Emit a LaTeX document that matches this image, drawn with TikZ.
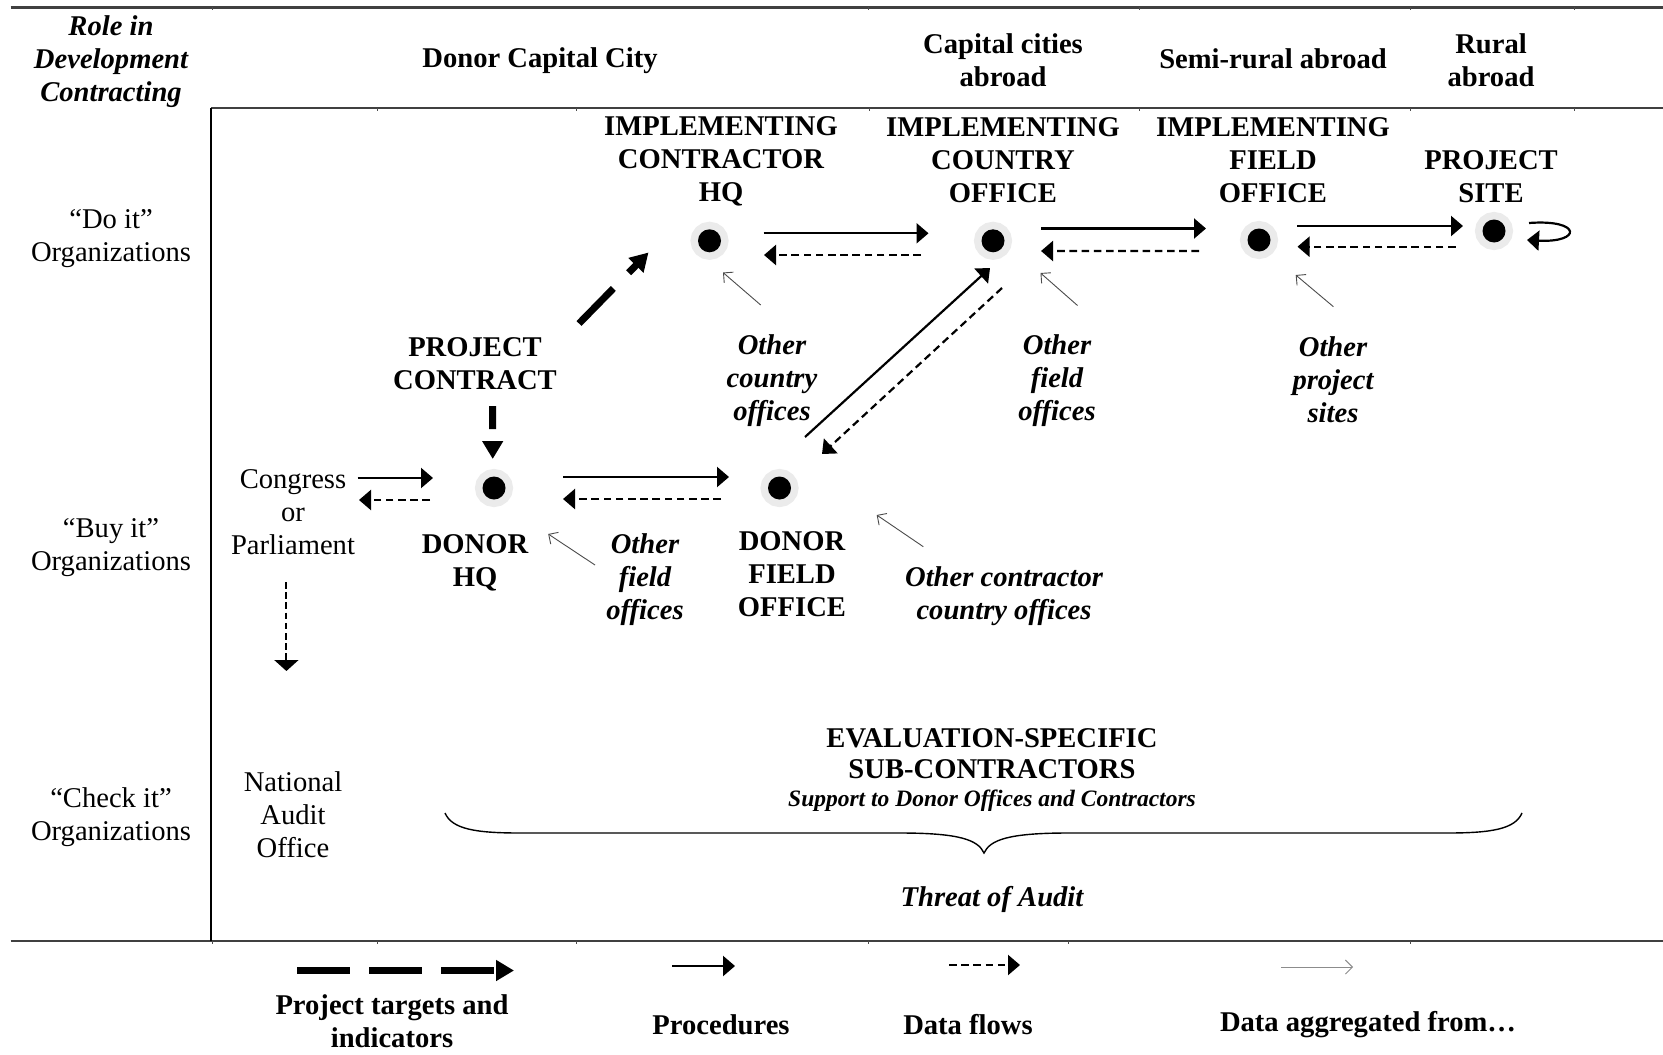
\documentclass[tikz,border=0pt]{standalone}
\usepackage{fontspec}
\setmainfont{Liberation Serif}
\usetikzlibrary{arrows.meta,calc}

\begin{document}
\begin{tikzpicture}[x=0.5pt,y=-0.5pt,
  every node/.style={font=\fontsize{14.3pt}{16.5pt}\selectfont, align=center, inner sep=0pt},
  hdr/.style={font=\fontsize{14.3pt}{16.5pt}\selectfont\bfseries},
  hdri/.style={font=\fontsize{14.3pt}{16.5pt}\selectfont\bfseries\itshape},
  dot/.style={circle, fill=black, inner sep=0pt, minimum size=11.5pt,
              preaction={draw=black!8, line width=7.5pt}},
  rule/.style={line width=1.1pt, draw=black!75},
  tick/.style={line width=0.4pt, draw=black!70},
  proc/.style={line width=1.1pt, -{Triangle[length=6pt,width=10pt]}},
  flow/.style={proc, dash pattern=on 3.8pt off 2.3pt},
  target/.style={line width=3.5pt, -{Triangle[length=9pt,width=10pt]}},
  agg/.style={line width=0.45pt, draw=black!70, -{Straight Barb[length=3.5pt,width=7pt]}},
]
\fill[white] (0,0) rectangle (1663,1054);
\useasboundingbox (0,0) rectangle (1663,1054);

% table rules
\draw[rule] (10.6,7.5) -- (1663,7.5);
\draw[rule] (211,108) -- (1663,108);
\draw[rule] (10.6,941) -- (1663,941);
\draw[line width=0.65pt] (211,108) -- (211,941);
\foreach \t in {212,868,1139,1410,1574} \draw[tick] (\t,7.5) -- ++(0,3);
\foreach \t in {377,576,869,1139,1410,1574} \draw[tick] (\t,108) -- ++(0,3);
\foreach \t in {212,377,576,868,1068,1410} \draw[tick] (\t,941) -- ++(0,3);

% column and row headings
\node[hdri] (role) at (111,62) {Role in\\Development\\Contracting};
\node[hdr] (donorcap) at (540,61) {Donor Capital City};
\node[hdr] (capabroad) at (1003,60) {Capital cities\\abroad};
\node[hdr] (semirural) at (1273,59) {Semi-rural abroad};
\node[hdr] (ruralabroad) at (1491,60) {Rural\\abroad};

\node (doit) at (111,239) {“Do it”\\Organizations};
\node (buyit) at (111,548) {“Buy it”\\Organizations};
\node (checkit) at (111,817) {“Check it”\\Organizations};

% organisations
\node[dot] (ichq) at (709.5,240.8) {};
\node[dot] (ico) at (993,240.8) {};
\node[dot] (ifo) at (1259,240) {};
\node[dot] (site) at (1494,231) {};
\node[dot] (dhq) at (494,488) {};
\node[dot] (dfo) at (779.5,488) {};

\node[hdr] (lab-ichq) at (721,161) {IMPLEMENTING\\CONTRACTOR\\HQ};
\node[hdr] (lab-ico) at (1003,160) {IMPLEMENTING\\COUNTRY\\OFFICE};
\node[hdr] (lab-ifo) at (1273,160) {IMPLEMENTING\\FIELD\\OFFICE};
\node[hdr] (lab-site) at (1491,177) {PROJECT\\SITE};
\node[hdr] (pc) at (475,364) {PROJECT\\CONTRACT};
\node[hdr] (lab-dhq) at (475,563) {DONOR\\HQ};
\node[hdr] (lab-dfo) at (792,574) {DONOR\\FIELD\\OFFICE};
\node (congress) at (293,512) {Congress\\or\\Parliament};
\node (nao) at (293,815) {National\\Audit\\Office};

\node[hdri] (oth1) at (772,381) {Other\\country\\offices};
\node[hdri] (oth2) at (1057,381) {Other\\field\\offices};
\node[hdri] (oth3) at (1333,380) {Other\\project\\sites};
\node[hdri] (oth4) at (645,580) {Other\\field\\offices};
\node[hdri] (oth5) at (1004,596) {Other contractor\\country offices};

% evaluation sub-contractors
\node[font=\fontsize{14.3pt}{15.5pt}\selectfont\bfseries] (eval) at (992,754)
  {EVALUATION-SPECIFIC\\SUB-CONTRACTORS};
\node[font=\fontsize{11.75pt}{13pt}\selectfont\bfseries\itshape] (support) at (992,801)
  {Support to Donor Offices and Contractors};
\node[hdri] (threat) at (992,899) {Threat of Audit};
\draw[line width=0.7pt] (445,813) .. controls (452,829) and (475,833) .. (520,833)
  -- (900,833) .. controls (960,833) and (978,840) .. (984,853)
  .. controls (990,840) and (1008,833) .. (1068,833)
  -- (1447,833) .. controls (1492,833) and (1515,829) .. (1522,813);

% procedures and data flows along the implementing chain
\draw[proc] ($(ichq)+(54,-7.5)$) -- ($(ico)+(-64.5,-7.5)$);
\draw[flow] ($(ico)+(-72,14.2)$) -- ($(ichq)+(54.5,14.2)$);
\draw[proc] ($(ico)+(48,-12.3)$) -- ($(ifo)+(-53,-11.5)$);
\draw[flow] ($(ifo)+(-60,11)$) -- ($(ico)+(48,10.2)$);
\draw[proc] ($(ifo)+(38,-14)$) -- ($(site)+(-31,-5)$);
\draw[flow] ($(site)+(-38.5,15.7)$) -- ($(ifo)+(38.5,6.7)$);
\draw[proc] ($(site)+(35,-8)$) .. controls ($(site)+(88,-12)$) and ($(site)+(88,12)$) .. ($(site)+(33,9)$);

% donor field office and country office
\draw[proc] ($(dfo)+(25.5,-51)$) -- ($(ico)+(-3,27.2)$);
\draw[flow] ($(ico)+(9,47.2)$) -- ($(dfo)+(42.5,-34)$);

% donor side
\draw[proc] ($(dhq)+(-136.5,-10)$) -- ($(dhq)+(-61,-10)$);
\draw[flow] ($(dhq)+(-64,12)$) -- ($(dhq)+(-135,12)$);
\draw[proc] ($(dhq)+(69,-11)$) -- ($(dfo)+(-50.5,-11)$);
\draw[flow] ($(dfo)+(-58.5,11)$) -- ($(dhq)+(69,11)$);
\draw[line width=1pt, dash pattern=on 3.3pt off 1.8pt, -{Triangle[length=5.5pt,width=12pt]}]
  ($(congress)+(-6.6,70)$) -- ($(congress)+(-6.6,159)$);

% project targets and indicators
\draw[target, dash pattern=on 24.5pt off 11pt] ($(pc)+(104,-40.5)$) -- ($(ichq)+(-61,11.7)$);
\draw[target, dash pattern=on 11.5pt off 6.5pt] ($(pc)+(17.7,42)$) -- ($(dhq)+(-1.3,-29)$);

% aggregated data
\draw[agg] ($(oth1)+(-11.3,-76)$) -- ($(ichq)+(13.5,31.7)$);
\draw[agg] ($(oth2)+(20.5,-75.5)$) -- ($(ico)+(47.5,32.2)$);
\draw[agg] ($(oth3)+(0.4,-73.3)$) -- ($(ifo)+(36.7,35)$);
\draw[agg] ($(oth4)+(-50,-15)$) -- ($(dhq)+(54.2,46)$);
\draw[agg] ($(oth5)+(-80.7,-49.3)$) -- ($(dfo)+(97.2,27)$);

% legend
\node[hdr] (lg1) at (392,1021) {Project targets and\\indicators};
\node[hdr] (lg2) at (721,1025) {Procedures};
\node[hdr] (lg3) at (968,1025) {Data flows};
\node[hdr] (lg4) at (1368,1025) {Data aggregated from…};
\draw[target, dash pattern=on 26.5pt off 9.5pt] ($(lg1)+(-95,-50.5)$) -- ($(lg1)+(122,-50.5)$);
\draw[proc] ($(lg2)+(-49,-59)$) -- ($(lg2)+(14,-59)$);
\draw[flow] ($(lg3)+(-19,-60)$) -- ($(lg3)+(52,-60)$);
\draw[agg, draw=black!45] ($(lg4)+(-87,-58)$) -- ($(lg4)+(-15,-58)$);
\end{tikzpicture}
\end{document}
